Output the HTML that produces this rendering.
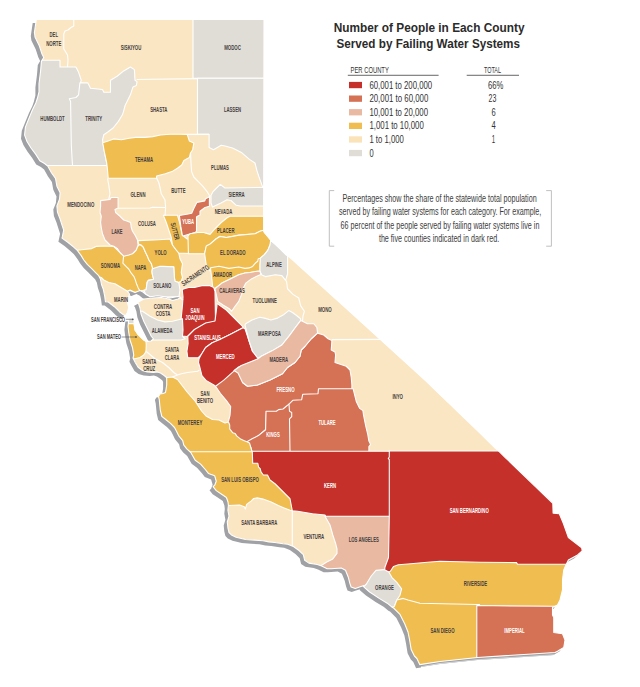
<!DOCTYPE html>
<html><head><meta charset="utf-8"><style>
html,body{margin:0;padding:0;background:#fff;}
body{width:640px;height:687px;overflow:hidden;position:relative;font-family:"Liberation Sans",sans-serif;}
svg{position:absolute;left:0;top:0;}
text{font-family:"Liberation Sans",sans-serif;}
</style></head><body>
<svg width="640" height="687" viewBox="0 0 640 687">
<defs><clipPath id="land"><polygon points="36.30,19.50 264.00,19.50 263.60,230.30 264.40,232.50 267.50,236.25 270.60,240.00 271.90,241.25 280.00,248.75 286.25,255.00 290.00,257.50 355.00,316.25 425.00,380.20 480.00,433.00 495.50,448.40 498.00,450.30 505.00,457.30 552.80,503.30 553.10,513.10 559.30,513.70 563.30,523.30 568.40,537.60 581.70,547.80 582.20,550.80 577.60,554.90 568.40,560.00 567.40,562.00 566.40,564.10 563.75,570.00 562.50,580.00 562.50,590.00 560.00,600.00 557.50,605.00 552.50,607.50 552.50,615.00 553.75,617.50 553.75,632.50 562.50,633.75 565.00,640.00 563.75,647.50 557.50,651.25 555.00,652.50 477.50,657.50 440.00,661.50 419.70,664.60 416.90,658.50 414.40,656.00 411.20,649.60 409.60,640.00 408.00,632.00 404.80,624.00 400.00,614.40 393.60,608.00 392.00,607.20 387.20,603.20 379.20,598.40 369.60,592.00 363.20,586.40 363.75,585.60 359.50,587.00 355.30,588.40 351.10,587.00 349.70,582.80 348.30,577.20 345.50,570.20 341.30,568.00 331.40,568.75 327.20,568.75 321.60,566.00 317.30,564.50 308.90,563.10 304.70,560.30 303.30,554.70 299.00,550.50 293.40,546.50 287.70,544.20 283.00,543.70 274.80,542.50 268.90,541.90 263.00,540.70 254.80,540.10 245.40,539.50 236.10,537.20 231.40,534.90 229.00,532.50 227.90,527.80 227.30,522.00 229.00,516.10 227.90,510.20 228.40,505.50 228.00,502.00 226.40,497.50 220.90,493.75 216.25,490.60 213.10,486.70 214.70,485.20 216.25,481.25 214.70,475.80 208.40,473.40 205.30,469.50 200.60,464.10 195.20,460.20 190.80,452.50 186.80,448.90 183.70,444.80 182.70,440.70 178.60,435.60 176.10,430.50 174.50,427.50 170.50,423.40 165.40,419.30 161.80,416.30 160.30,410.20 159.30,400.00 158.50,396.50 160.00,394.00 163.00,393.50 165.50,392.50 166.70,385.00 166.70,378.50 166.00,377.00 163.50,375.00 160.50,373.00 157.50,371.90 153.40,372.40 147.30,371.90 142.20,370.40 138.10,367.30 135.10,362.20 133.00,358.10 133.75,355.00 132.50,347.50 130.00,340.00 128.75,332.50 128.00,326.25 128.50,322.00 129.00,318.00 133.50,318.00 134.00,322.00 135.00,330.00 137.50,333.75 141.25,337.50 144.00,340.00 147.00,341.50 151.00,341.00 153.50,339.00 151.25,336.25 148.75,331.25 146.25,326.25 143.75,321.25 141.00,314.00 140.00,308.00 138.50,303.50 137.50,302.50 143.75,299.00 152.50,298.00 161.25,297.50 168.75,299.00 172.50,300.50 178.00,299.00 181.00,297.50 178.00,296.50 170.00,298.00 165.00,296.80 157.50,295.80 150.00,296.80 146.00,294.50 143.00,292.00 140.00,290.50 137.50,291.50 135.00,292.50 130.00,290.50 127.50,291.50 129.50,294.00 128.50,297.50 127.50,302.50 128.75,307.50 127.50,312.50 125.50,315.50 124.30,315.40 119.40,311.70 114.40,306.70 108.30,302.00 105.50,301.80 104.60,295.60 103.30,289.40 101.50,284.50 100.50,279.20 98.70,275.70 96.10,273.10 91.70,268.70 87.30,264.30 83.80,260.00 81.20,255.60 77.30,250.30 73.40,246.90 68.10,242.50 62.00,238.10 62.40,236.40 63.70,230.20 62.00,225.00 60.10,219.00 57.50,212.40 56.90,205.90 59.50,199.30 60.10,192.80 56.90,186.20 55.50,178.30 51.60,173.00 47.70,166.00 44.50,163.50 39.80,160.80 35.80,154.40 31.00,148.00 27.00,141.50 24.60,135.10 25.40,127.10 28.60,119.10 32.60,109.50 35.80,103.00 37.40,98.30 39.00,91.90 39.00,83.80 40.60,71.00 41.40,61.40 43.75,57.50 41.90,53.75 39.40,46.00 35.00,37.00 34.40,32.50"/></clipPath></defs>

<polygon points="36.30,19.50 264.00,19.50 263.60,230.30 264.40,232.50 267.50,236.25 270.60,240.00 271.90,241.25 280.00,248.75 286.25,255.00 290.00,257.50 355.00,316.25 425.00,380.20 480.00,433.00 495.50,448.40 498.00,450.30 505.00,457.30 552.80,503.30 553.10,513.10 559.30,513.70 563.30,523.30 568.40,537.60 581.70,547.80 582.20,550.80 577.60,554.90 568.40,560.00 567.40,562.00 566.40,564.10 563.75,570.00 562.50,580.00 562.50,590.00 560.00,600.00 557.50,605.00 552.50,607.50 552.50,615.00 553.75,617.50 553.75,632.50 562.50,633.75 565.00,640.00 563.75,647.50 557.50,651.25 555.00,652.50 477.50,657.50 440.00,661.50 419.70,664.60 416.90,658.50 414.40,656.00 411.20,649.60 409.60,640.00 408.00,632.00 404.80,624.00 400.00,614.40 393.60,608.00 392.00,607.20 387.20,603.20 379.20,598.40 369.60,592.00 363.20,586.40 363.75,585.60 359.50,587.00 355.30,588.40 351.10,587.00 349.70,582.80 348.30,577.20 345.50,570.20 341.30,568.00 331.40,568.75 327.20,568.75 321.60,566.00 317.30,564.50 308.90,563.10 304.70,560.30 303.30,554.70 299.00,550.50 293.40,546.50 287.70,544.20 283.00,543.70 274.80,542.50 268.90,541.90 263.00,540.70 254.80,540.10 245.40,539.50 236.10,537.20 231.40,534.90 229.00,532.50 227.90,527.80 227.30,522.00 229.00,516.10 227.90,510.20 228.40,505.50 228.00,502.00 226.40,497.50 220.90,493.75 216.25,490.60 213.10,486.70 214.70,485.20 216.25,481.25 214.70,475.80 208.40,473.40 205.30,469.50 200.60,464.10 195.20,460.20 190.80,452.50 186.80,448.90 183.70,444.80 182.70,440.70 178.60,435.60 176.10,430.50 174.50,427.50 170.50,423.40 165.40,419.30 161.80,416.30 160.30,410.20 159.30,400.00 158.50,396.50 160.00,394.00 163.00,393.50 165.50,392.50 166.70,385.00 166.70,378.50 166.00,377.00 163.50,375.00 160.50,373.00 157.50,371.90 153.40,372.40 147.30,371.90 142.20,370.40 138.10,367.30 135.10,362.20 133.00,358.10 133.75,355.00 132.50,347.50 130.00,340.00 128.75,332.50 128.00,326.25 128.50,322.00 129.00,318.00 133.50,318.00 134.00,322.00 135.00,330.00 137.50,333.75 141.25,337.50 144.00,340.00 147.00,341.50 151.00,341.00 153.50,339.00 151.25,336.25 148.75,331.25 146.25,326.25 143.75,321.25 141.00,314.00 140.00,308.00 138.50,303.50 137.50,302.50 143.75,299.00 152.50,298.00 161.25,297.50 168.75,299.00 172.50,300.50 178.00,299.00 181.00,297.50 178.00,296.50 170.00,298.00 165.00,296.80 157.50,295.80 150.00,296.80 146.00,294.50 143.00,292.00 140.00,290.50 137.50,291.50 135.00,292.50 130.00,290.50 127.50,291.50 129.50,294.00 128.50,297.50 127.50,302.50 128.75,307.50 127.50,312.50 125.50,315.50 124.30,315.40 119.40,311.70 114.40,306.70 108.30,302.00 105.50,301.80 104.60,295.60 103.30,289.40 101.50,284.50 100.50,279.20 98.70,275.70 96.10,273.10 91.70,268.70 87.30,264.30 83.80,260.00 81.20,255.60 77.30,250.30 73.40,246.90 68.10,242.50 62.00,238.10 62.40,236.40 63.70,230.20 62.00,225.00 60.10,219.00 57.50,212.40 56.90,205.90 59.50,199.30 60.10,192.80 56.90,186.20 55.50,178.30 51.60,173.00 47.70,166.00 44.50,163.50 39.80,160.80 35.80,154.40 31.00,148.00 27.00,141.50 24.60,135.10 25.40,127.10 28.60,119.10 32.60,109.50 35.80,103.00 37.40,98.30 39.00,91.90 39.00,83.80 40.60,71.00 41.40,61.40 43.75,57.50 41.90,53.75 39.40,46.00 35.00,37.00 34.40,32.50" fill="#9fa1a5" transform="translate(-3.6,3.6)"/>
<polygon points="421,667 440,663.9 477.5,660 555,655 600,652 600,687 421,687" fill="#fff"/>
<polygon points="421,666.2 440,663.1 477.5,659.2 555,654.2 555,655 477.5,660 440,663.9 421,667" fill="#d9dadc"/>
<g clip-path="url(#land)">
<polygon points="36.30,19.50 264.00,19.50 263.60,230.30 264.40,232.50 267.50,236.25 270.60,240.00 271.90,241.25 280.00,248.75 286.25,255.00 290.00,257.50 355.00,316.25 425.00,380.20 480.00,433.00 495.50,448.40 498.00,450.30 505.00,457.30 552.80,503.30 553.10,513.10 559.30,513.70 563.30,523.30 568.40,537.60 581.70,547.80 582.20,550.80 577.60,554.90 568.40,560.00 567.40,562.00 566.40,564.10 563.75,570.00 562.50,580.00 562.50,590.00 560.00,600.00 557.50,605.00 552.50,607.50 552.50,615.00 553.75,617.50 553.75,632.50 562.50,633.75 565.00,640.00 563.75,647.50 557.50,651.25 555.00,652.50 477.50,657.50 440.00,661.50 419.70,664.60 416.90,658.50 414.40,656.00 411.20,649.60 409.60,640.00 408.00,632.00 404.80,624.00 400.00,614.40 393.60,608.00 392.00,607.20 387.20,603.20 379.20,598.40 369.60,592.00 363.20,586.40 363.75,585.60 359.50,587.00 355.30,588.40 351.10,587.00 349.70,582.80 348.30,577.20 345.50,570.20 341.30,568.00 331.40,568.75 327.20,568.75 321.60,566.00 317.30,564.50 308.90,563.10 304.70,560.30 303.30,554.70 299.00,550.50 293.40,546.50 287.70,544.20 283.00,543.70 274.80,542.50 268.90,541.90 263.00,540.70 254.80,540.10 245.40,539.50 236.10,537.20 231.40,534.90 229.00,532.50 227.90,527.80 227.30,522.00 229.00,516.10 227.90,510.20 228.40,505.50 228.00,502.00 226.40,497.50 220.90,493.75 216.25,490.60 213.10,486.70 214.70,485.20 216.25,481.25 214.70,475.80 208.40,473.40 205.30,469.50 200.60,464.10 195.20,460.20 190.80,452.50 186.80,448.90 183.70,444.80 182.70,440.70 178.60,435.60 176.10,430.50 174.50,427.50 170.50,423.40 165.40,419.30 161.80,416.30 160.30,410.20 159.30,400.00 158.50,396.50 160.00,394.00 163.00,393.50 165.50,392.50 166.70,385.00 166.70,378.50 166.00,377.00 163.50,375.00 160.50,373.00 157.50,371.90 153.40,372.40 147.30,371.90 142.20,370.40 138.10,367.30 135.10,362.20 133.00,358.10 133.75,355.00 132.50,347.50 130.00,340.00 128.75,332.50 128.00,326.25 128.50,322.00 129.00,318.00 133.50,318.00 134.00,322.00 135.00,330.00 137.50,333.75 141.25,337.50 144.00,340.00 147.00,341.50 151.00,341.00 153.50,339.00 151.25,336.25 148.75,331.25 146.25,326.25 143.75,321.25 141.00,314.00 140.00,308.00 138.50,303.50 137.50,302.50 143.75,299.00 152.50,298.00 161.25,297.50 168.75,299.00 172.50,300.50 178.00,299.00 181.00,297.50 178.00,296.50 170.00,298.00 165.00,296.80 157.50,295.80 150.00,296.80 146.00,294.50 143.00,292.00 140.00,290.50 137.50,291.50 135.00,292.50 130.00,290.50 127.50,291.50 129.50,294.00 128.50,297.50 127.50,302.50 128.75,307.50 127.50,312.50 125.50,315.50 124.30,315.40 119.40,311.70 114.40,306.70 108.30,302.00 105.50,301.80 104.60,295.60 103.30,289.40 101.50,284.50 100.50,279.20 98.70,275.70 96.10,273.10 91.70,268.70 87.30,264.30 83.80,260.00 81.20,255.60 77.30,250.30 73.40,246.90 68.10,242.50 62.00,238.10 62.40,236.40 63.70,230.20 62.00,225.00 60.10,219.00 57.50,212.40 56.90,205.90 59.50,199.30 60.10,192.80 56.90,186.20 55.50,178.30 51.60,173.00 47.70,166.00 44.50,163.50 39.80,160.80 35.80,154.40 31.00,148.00 27.00,141.50 24.60,135.10 25.40,127.10 28.60,119.10 32.60,109.50 35.80,103.00 37.40,98.30 39.00,91.90 39.00,83.80 40.60,71.00 41.40,61.40 43.75,57.50 41.90,53.75 39.40,46.00 35.00,37.00 34.40,32.50" fill="#fbe6c3"/>
<g stroke="#fff" stroke-width="1.1" stroke-linejoin="round">
<polygon points="193.00,15.00 270.00,15.00 270.00,78.30 193.00,78.30" fill="#e0ddd7"/>
<polygon points="197.50,78.30 270.00,78.30 270.00,186.60 262.50,186.60 258.75,176.25 256.90,170.60 255.00,163.00 249.40,159.40 241.90,152.80 232.50,148.00 225.00,146.00 221.25,145.30 213.50,149.70 209.10,147.50 209.10,134.40 197.50,134.40" fill="#e0ddd7"/>
<polygon points="15.00,60.30 60.00,60.30 60.00,67.00 75.90,67.00 78.60,72.30 81.20,80.20 80.50,83.00 84.00,84.00 84.00,165.50 15.00,165.50" fill="#e0ddd7"/>
<polygon points="79.90,82.90 87.90,82.90 90.50,88.20 102.50,89.50 103.80,92.20 110.50,92.20 110.50,80.20 117.10,76.20 123.70,70.90 130.40,67.00 134.40,69.60 135.00,80.20 137.00,81.60 136.40,85.50 133.00,86.90 130.40,94.80 127.70,100.20 125.10,105.50 123.70,110.80 122.40,114.80 118.40,121.40 113.10,128.00 107.80,132.00 103.80,134.70 102.50,140.00 104.40,151.25 105.60,158.00 107.20,165.50 72.50,165.50 71.30,145.00 70.60,101.50 69.30,98.80 75.90,97.50 78.60,94.80" fill="#e0ddd7"/>
<polygon points="102.70,142.80 107.40,141.30 113.60,138.90 121.40,139.70 129.25,138.20 135.50,137.40 144.90,137.40 152.70,136.60 160.50,135.00 169.90,134.25 179.25,134.25 187.20,134.40 189.40,141.00 193.80,143.10 192.70,149.70 190.50,153.00 189.40,157.40 183.90,160.60 181.70,165.00 177.40,168.30 171.90,171.60 165.30,173.80 156.60,176.00 156.60,178.30 108.20,178.30 107.40,168.60 106.60,162.40 104.25,151.40" fill="#f0bd50"/>
<polygon points="212.80,191.90 216.60,188.00 220.30,184.40 225.00,188.00 270.00,187.30 270.00,206.00 240.00,206.00 236.25,205.30 231.00,200.50 227.00,199.80 221.00,203.00 212.50,207.00 211.00,203.00 211.00,195.60" fill="#e0ddd7"/>
<polygon points="60.00,251.00 77.30,250.30 83.80,249.50 91.70,248.60 96.10,246.40 105.00,246.00 113.75,246.50 117.50,250.00 121.25,253.75 126.00,256.00 128.00,265.00 134.00,272.00 138.00,280.00 140.00,288.00 139.50,291.50 135.00,292.50 130.00,290.00 127.50,291.25 121.25,287.50 115.00,283.75 108.75,282.50 103.75,280.00 101.25,277.50 80.00,270.00" fill="#f0bd50"/>
<polygon points="123.60,255.90 129.50,254.50 133.80,252.30 136.00,249.40 137.50,246.50 138.90,245.00 141.10,245.00 143.30,247.20 145.50,252.30 147.60,256.60 149.00,260.00 151.30,263.50 152.50,267.60 151.90,271.60 152.50,275.10 153.60,279.20 148.40,280.40 147.20,282.10 146.60,286.20 146.10,289.70 143.70,290.30 139.70,290.50 138.20,287.90 136.70,284.30 135.30,279.90 133.80,276.30 130.90,272.60 128.70,269.00 126.50,266.80 122.90,263.20" fill="#f0bd50"/>
<polygon points="100.60,200.60 110.00,199.40 111.25,197.50 118.10,197.50 118.10,208.10 115.00,209.40 115.60,212.50 120.00,216.25 123.75,220.00 127.50,221.25 130.60,222.50 131.25,227.50 132.50,231.25 135.00,235.00 137.50,240.00 138.10,245.00 136.25,250.00 132.50,253.75 128.75,255.00 123.75,256.25 120.00,252.50 117.50,248.75 113.75,246.25 110.00,245.00 105.00,240.00 102.50,233.75 101.25,227.50 100.60,222.50 101.25,216.25 100.00,212.50 100.60,206.25" fill="#e9b9a2"/>
<polygon points="138.00,240.60 158.75,239.70 170.00,239.00 172.50,245.00 176.25,250.00 178.75,253.00 180.00,258.75 182.50,263.75 181.90,267.50 181.25,272.50 182.50,277.50 181.25,281.00 178.75,282.50 175.00,281.25 174.40,277.50 173.75,266.90 165.00,267.50 157.50,268.75 152.50,268.75 152.50,267.60 151.30,263.50 149.00,260.00 147.60,256.60 145.50,252.30 143.30,247.20 141.10,245.00 138.50,244.00" fill="#f0bd50"/>
<polygon points="152.50,268.70 156.00,267.60 159.50,266.40 163.00,266.40 173.75,266.90 174.40,277.50 175.00,281.25 178.75,282.50 180.00,290.00 179.00,296.50 165.00,297.00 150.00,297.00 146.00,294.50 143.70,290.30 146.10,289.70 146.60,286.20 147.20,282.10 148.40,280.40 153.60,279.20 152.50,275.10 151.90,271.60" fill="#e0ddd7"/>
<polygon points="163.40,215.30 177.50,215.30 179.40,221.90 182.20,235.00 186.90,238.75 189.50,240.00 189.50,253.50 178.75,253.00 176.25,250.00 172.50,245.00 171.25,237.50 168.75,230.00 166.25,222.50 163.75,216.25" fill="#f0bd50"/>
<polygon points="209.90,195.50 209.40,199.50 209.40,206.25 205.00,207.50 200.00,211.25 200.00,215.00 197.50,216.25 196.50,217.00 196.50,231.50 195.00,232.50 188.80,234.20 183.00,236.00 182.30,235.10 180.80,226.40 179.40,215.50 188.10,214.00 191.70,213.30 193.90,208.20 196.80,202.40 204.80,200.90 205.50,198.70 208.50,197.30" fill="#d57154"/>
<polygon points="188.00,236.00 190.00,233.75 197.50,232.50 203.75,232.50 210.00,234.40 215.00,228.75 221.25,222.50 227.50,217.50 230.00,216.25 270.00,216.25 270.00,230.30 265.00,230.00 260.00,231.25 255.00,233.75 245.00,234.50 238.75,235.00 232.50,236.25 226.25,237.50 220.00,236.25 216.25,238.75 210.00,245.00 206.25,247.00 204.60,253.75 188.40,253.75" fill="#f0bd50"/>
<polygon points="204.60,253.75 206.25,246.00 210.00,244.00 216.25,238.75 220.00,236.50 226.25,237.50 232.50,236.50 238.75,235.20 245.00,234.70 255.00,233.75 260.00,231.25 263.40,230.30 264.40,232.50 267.50,236.25 270.60,240.00 271.00,242.50 270.00,245.00 267.90,250.10 264.40,254.70 260.30,258.20 258.00,262.00 255.00,266.00 245.00,270.00 228.75,270.00 217.50,270.00 210.00,271.00 206.25,265.00" fill="#f0bd50"/>
<polygon points="270.60,240.50 287.60,252.00 287.60,273.75 285.60,280.30 281.90,275.60 275.30,274.70 265.40,276.60 261.80,275.00 259.80,271.00 259.80,258.50 260.30,258.20 264.40,254.70 267.90,250.10 270.00,245.00" fill="#e0ddd7"/>
<polygon points="210.60,267.70 219.00,266.25 228.90,268.40 238.75,267.00 245.00,268.40 249.10,267.90 252.60,266.40 255.20,263.30 257.70,261.30 258.20,258.75 260.30,258.20 259.80,265.00 259.80,271.00 255.20,271.50 250.10,272.50 245.00,273.00 238.75,274.70 230.30,278.90 221.90,283.10 214.80,288.75 212.70,287.30 212.00,280.30 210.60,269.00" fill="#f0bd50"/>
<polygon points="214.80,288.75 221.90,283.10 230.30,278.90 238.75,274.70 245.00,273.00 250.10,272.50 255.20,271.50 259.80,271.00 261.00,274.50 258.40,275.50 251.40,278.90 245.80,283.10 243.00,288.75 241.60,294.40 238.75,301.40 234.50,307.00 231.70,311.25 228.90,308.40 223.00,305.00 217.70,301.40 216.25,294.40" fill="#e9b9a2"/>
<polygon points="182.20,289.40 185.00,288.40 188.75,287.50 194.40,287.50 201.90,285.60 209.40,285.60 213.75,287.50 215.00,291.25 215.50,321.50 205.60,323.50 194.40,330.00 187.50,336.50 181.25,336.00 181.25,317.50 182.50,305.00 183.00,297.00" fill="#c5302b"/>
<polygon points="187.80,336.25 194.40,329.50 205.60,323.00 215.00,321.00 216.90,306.25 216.90,303.40 226.25,310.00 233.75,317.50 243.00,326.90 243.00,327.80 230.00,334.40 218.75,340.00 212.20,342.80 205.60,347.50 201.00,355.00 198.00,357.80 187.80,357.80 186.90,351.25 188.10,343.75" fill="#c5302b"/>
<polygon points="199.00,358.75 201.00,355.00 205.60,347.50 212.20,342.80 218.75,340.00 230.00,334.40 243.00,327.80 245.00,328.75 248.75,340.00 252.50,351.25 260.00,358.75 258.00,359.70 241.25,366.50 235.00,371.50 224.00,381.50 216.00,387.50 214.70,385.50 206.00,380.40 201.90,375.60 200.00,368.00 198.50,362.50" fill="#c5302b"/>
<polygon points="245.00,325.00 245.60,323.70 252.00,320.00 259.70,317.20 264.40,318.10 270.90,320.00 277.50,318.10 284.00,314.40 288.75,310.60 292.50,312.50 296.25,315.30 300.60,318.75 300.60,320.60 295.00,328.00 289.40,335.60 281.90,345.00 272.50,350.60 261.25,356.25 258.00,358.50 252.50,351.25 248.75,340.00" fill="#e0ddd7"/>
<polygon points="317.50,333.10 323.75,335.00 328.10,338.75 331.90,340.60 331.25,350.00 335.00,351.90 335.60,355.00 335.00,362.50 338.75,363.75 346.25,366.25 350.00,370.00 351.25,377.50 351.90,385.00 351.90,390.00 319.50,390.00 319.50,395.00 303.50,395.00 302.50,401.00 293.50,401.50 287.50,407.00 283.00,410.00 276.00,412.50 266.40,413.00 265.60,429.80 258.40,435.60 252.00,446.00 245.00,444.00 236.00,438.00 228.00,431.00 226.00,424.00 228.50,421.00 230.00,415.30 230.70,406.50 226.40,400.70 220.50,393.50 215.50,386.20 223.50,380.40 235.00,370.20 238.00,367.30 242.00,366.00 242.50,382.50 247.50,386.25 257.50,385.00 270.00,380.00 282.50,373.75 287.50,367.50 295.00,362.50 300.00,356.25 301.25,350.00 305.00,346.25 311.25,338.75" fill="#d57154"/>
<polygon points="258.00,358.80 261.25,356.25 272.50,350.60 281.90,345.00 289.40,335.60 295.00,328.00 300.60,320.60 302.50,321.25 307.50,323.75 313.75,323.75 316.90,327.50 317.50,332.50 317.50,333.10 311.25,338.75 305.00,346.25 301.25,350.00 300.00,356.25 295.00,362.50 287.50,367.50 282.50,373.75 270.00,380.00 257.50,385.00 247.50,386.25 242.50,382.50 238.00,373.00 234.00,370.50 241.25,365.50" fill="#e9b9a2"/>
<polygon points="266.00,411.30 276.40,411.30 278.60,409.60 283.00,409.00 286.30,406.30 289.00,404.10 293.00,405.00 293.00,452.50 252.00,452.50 251.00,448.00 248.50,443.00 246.90,441.80 252.50,438.60 258.40,435.60 265.60,429.80" fill="#d57154"/>
<polygon points="289.00,404.10 292.80,400.30 301.60,399.80 302.70,394.30 318.00,393.75 318.50,388.80 353.10,388.70 354.20,393.10 356.40,401.80 359.70,408.40 362.90,410.60 363.50,414.90 365.70,425.90 367.80,434.60 368.90,441.10 370.60,444.40 368.90,446.60 368.90,452.50 290.00,452.50 289.50,418.90 291.70,416.70 291.70,412.40 289.50,411.30" fill="#d57154"/>
<polygon points="138.00,311.25 142.50,311.25 150.00,316.25 157.50,320.00 165.00,321.90 172.50,321.25 182.50,318.75 182.50,320.00 183.00,330.00 182.50,336.25 185.00,338.75 181.25,340.00 165.00,340.00 152.50,340.00 145.00,340.00 138.00,330.00" fill="#e0ddd7"/>
<polygon points="120.00,316.00 134.50,316.00 134.50,323.50 120.00,323.50" fill="#e0ddd7"/>
<polygon points="120.00,323.80 134.00,323.80 135.00,330.00 137.50,333.75 141.25,337.50 143.75,340.00 146.00,341.50 146.25,345.00 146.00,351.50 143.75,355.00 140.00,357.50 135.00,358.75 120.00,358.00" fill="#f0bd50"/>
<polygon points="167.50,377.50 172.50,377.00 177.50,379.50 182.50,386.00 187.50,392.50 195.00,401.00 201.60,411.00 206.00,416.00 212.50,419.50 219.00,420.00 225.00,423.00 228.50,422.00 229.70,425.00 229.70,428.90 232.80,432.80 235.20,433.60 236.70,435.90 240.60,439.10 243.75,440.60 246.90,441.80 249.50,443.00 251.00,448.00 252.50,453.00 190.00,453.00 150.00,453.00 150.00,377.00" fill="#f0bd50"/>
<polygon points="180.00,451.80 300.00,451.80 300.00,505.00 292.30,510.80 290.00,510.20 284.10,507.90 278.30,505.50 271.20,502.00 263.00,499.10 257.20,497.90 253.70,498.50 251.30,500.90 246.60,504.40 245.40,509.00 244.30,506.70 239.60,505.00 228.40,505.50 215.00,506.00" fill="#f0bd50"/>
<polygon points="252.30,451.30 391.00,451.30 391.00,517.00 326.00,517.00 325.00,515.00 312.50,513.75 305.00,512.50 297.50,511.25 292.30,510.80 290.00,498.75 285.00,493.75 280.00,488.75 275.00,483.75 270.00,480.00 267.50,475.00 263.30,475.00 261.00,471.90 260.20,468.75 258.60,467.20 257.80,463.30 252.70,463.30" fill="#c5302b"/>
<polygon points="325.00,516.20 391.00,516.20 391.00,560.00 387.00,570.00 375.00,574.00 368.00,585.00 360.00,595.00 330.00,590.00 318.00,570.00 321.60,565.20 327.20,561.70 332.80,558.90 337.00,553.30 337.00,549.00 335.60,543.40 332.80,535.00 330.00,525.00" fill="#e9b9a2"/>
<polygon points="389.30,451.00 500.00,451.00 600.00,540.00 600.00,566.00 567.50,566.00 517.50,566.00 480.00,566.00 440.00,566.00 427.50,566.00 408.00,566.00 398.40,566.50 393.60,569.00 390.40,573.50 384.50,573.50 384.50,571.00 385.00,567.00 388.50,557.50 389.30,516.25 389.30,459.50 388.30,458.50 389.30,457.00" fill="#c5302b"/>
<polygon points="388.80,572.00 390.40,571.30 393.60,566.40 398.40,564.80 408.00,564.00 427.50,562.30 440.00,561.30 480.00,562.30 516.50,562.60 517.50,564.30 595.00,564.30 595.00,607.00 557.50,607.00 477.50,607.00 420.00,606.00 408.00,603.00 396.80,603.00 385.00,600.00 385.00,572.00" fill="#f0bd50"/>
<polygon points="366.40,584.00 371.20,576.00 376.00,570.40 384.00,569.60 388.80,572.00 392.00,577.60 396.80,582.40 401.60,588.80 400.00,595.20 396.80,600.00 394.40,606.40 380.00,612.00 355.00,595.00" fill="#e0ddd7"/>
<polygon points="394.40,606.40 396.80,600.00 403.20,598.40 408.00,600.00 420.00,603.20 477.50,604.50 479.50,604.50 479.50,675.00 395.00,675.00 385.00,610.00" fill="#f0bd50"/>
<polygon points="476.80,605.50 552.50,606.30 600.00,606.30 600.00,675.00 476.80,675.00" fill="#d57154"/>
<polyline points="73.75,15.00 73.75,26.00 71.00,27.50 68.00,30.00 65.00,31.00 63.75,34.00 63.75,48.75 67.50,55.00 68.00,60.00 67.50,67.00" fill="none"/>
<polyline points="136.60,79.50 197.50,78.60" fill="none"/>
<polyline points="187.20,134.40 209.10,134.40" fill="none"/>
<polyline points="190.50,153.00 191.00,162.80 191.60,171.60 193.80,177.00 198.10,181.40 202.50,185.80 206.90,191.30 209.40,195.50" fill="none"/>
<polyline points="156.60,178.00 158.75,182.50 160.00,187.50 161.25,193.75 165.00,200.00 165.60,207.50" fill="none"/>
<polyline points="118.00,208.30 150.00,208.00 152.50,207.30 165.60,207.50" fill="none"/>
<polyline points="165.60,207.50 165.00,216.00" fill="none"/>
<polyline points="107.50,178.50 108.75,185.00 110.00,193.75 108.75,199.40" fill="none"/>
<polyline points="145.50,351.00 147.50,352.50 155.00,358.75 162.50,362.50 168.75,367.50 173.75,372.50 177.50,375.00" fill="none"/>
<polyline points="177.50,375.00 181.25,373.75 187.50,372.50 197.50,371.25 199.50,370.00" fill="none"/>
<polyline points="172.50,377.00 177.50,375.00" fill="none"/>
<polyline points="285.60,280.30 286.60,281.50 287.50,288.75 293.00,294.40 298.75,298.00 300.60,305.60 304.40,311.25 303.00,316.00 302.50,321.00" fill="none"/>
<polyline points="331.90,339.60 385.00,339.40" fill="none"/>
<polyline points="292.30,510.80 292.30,548.00" fill="none"/>
<polyline points="180.00,298.00 183.00,300.00" fill="none"/>
</g></g>
<polygon points="36.30,19.50 264.00,19.50 263.60,230.30 264.40,232.50 267.50,236.25 270.60,240.00 271.90,241.25 280.00,248.75 286.25,255.00 290.00,257.50 355.00,316.25 425.00,380.20 480.00,433.00 495.50,448.40 498.00,450.30 505.00,457.30 552.80,503.30 553.10,513.10 559.30,513.70 563.30,523.30 568.40,537.60 581.70,547.80 582.20,550.80 577.60,554.90 568.40,560.00 567.40,562.00 566.40,564.10 563.75,570.00 562.50,580.00 562.50,590.00 560.00,600.00 557.50,605.00 552.50,607.50 552.50,615.00 553.75,617.50 553.75,632.50 562.50,633.75 565.00,640.00 563.75,647.50 557.50,651.25 555.00,652.50 477.50,657.50 440.00,661.50 419.70,664.60 416.90,658.50 414.40,656.00 411.20,649.60 409.60,640.00 408.00,632.00 404.80,624.00 400.00,614.40 393.60,608.00 392.00,607.20 387.20,603.20 379.20,598.40 369.60,592.00 363.20,586.40 363.75,585.60 359.50,587.00 355.30,588.40 351.10,587.00 349.70,582.80 348.30,577.20 345.50,570.20 341.30,568.00 331.40,568.75 327.20,568.75 321.60,566.00 317.30,564.50 308.90,563.10 304.70,560.30 303.30,554.70 299.00,550.50 293.40,546.50 287.70,544.20 283.00,543.70 274.80,542.50 268.90,541.90 263.00,540.70 254.80,540.10 245.40,539.50 236.10,537.20 231.40,534.90 229.00,532.50 227.90,527.80 227.30,522.00 229.00,516.10 227.90,510.20 228.40,505.50 228.00,502.00 226.40,497.50 220.90,493.75 216.25,490.60 213.10,486.70 214.70,485.20 216.25,481.25 214.70,475.80 208.40,473.40 205.30,469.50 200.60,464.10 195.20,460.20 190.80,452.50 186.80,448.90 183.70,444.80 182.70,440.70 178.60,435.60 176.10,430.50 174.50,427.50 170.50,423.40 165.40,419.30 161.80,416.30 160.30,410.20 159.30,400.00 158.50,396.50 160.00,394.00 163.00,393.50 165.50,392.50 166.70,385.00 166.70,378.50 166.00,377.00 163.50,375.00 160.50,373.00 157.50,371.90 153.40,372.40 147.30,371.90 142.20,370.40 138.10,367.30 135.10,362.20 133.00,358.10 133.75,355.00 132.50,347.50 130.00,340.00 128.75,332.50 128.00,326.25 128.50,322.00 129.00,318.00 133.50,318.00 134.00,322.00 135.00,330.00 137.50,333.75 141.25,337.50 144.00,340.00 147.00,341.50 151.00,341.00 153.50,339.00 151.25,336.25 148.75,331.25 146.25,326.25 143.75,321.25 141.00,314.00 140.00,308.00 138.50,303.50 137.50,302.50 143.75,299.00 152.50,298.00 161.25,297.50 168.75,299.00 172.50,300.50 178.00,299.00 181.00,297.50 178.00,296.50 170.00,298.00 165.00,296.80 157.50,295.80 150.00,296.80 146.00,294.50 143.00,292.00 140.00,290.50 137.50,291.50 135.00,292.50 130.00,290.50 127.50,291.50 129.50,294.00 128.50,297.50 127.50,302.50 128.75,307.50 127.50,312.50 125.50,315.50 124.30,315.40 119.40,311.70 114.40,306.70 108.30,302.00 105.50,301.80 104.60,295.60 103.30,289.40 101.50,284.50 100.50,279.20 98.70,275.70 96.10,273.10 91.70,268.70 87.30,264.30 83.80,260.00 81.20,255.60 77.30,250.30 73.40,246.90 68.10,242.50 62.00,238.10 62.40,236.40 63.70,230.20 62.00,225.00 60.10,219.00 57.50,212.40 56.90,205.90 59.50,199.30 60.10,192.80 56.90,186.20 55.50,178.30 51.60,173.00 47.70,166.00 44.50,163.50 39.80,160.80 35.80,154.40 31.00,148.00 27.00,141.50 24.60,135.10 25.40,127.10 28.60,119.10 32.60,109.50 35.80,103.00 37.40,98.30 39.00,91.90 39.00,83.80 40.60,71.00 41.40,61.40 43.75,57.50 41.90,53.75 39.40,46.00 35.00,37.00 34.40,32.50" fill="none" stroke="#fff" stroke-width="1.1" stroke-linejoin="round"/>
<g>
<text x="53.75" y="37.30" fill="#454040" font-size="7.00" font-weight="bold" textLength="8.44" lengthAdjust="spacingAndGlyphs" text-anchor="middle">DEL</text>
<text x="53.75" y="45.50" fill="#454040" font-size="7.00" font-weight="bold" textLength="15.11" lengthAdjust="spacingAndGlyphs" text-anchor="middle">NORTE</text>
<text x="131.00" y="50.00" fill="#454040" font-size="7.00" font-weight="bold" textLength="20.50" lengthAdjust="spacingAndGlyphs" text-anchor="middle">SISKIYOU</text>
<text x="232.50" y="50.00" fill="#454040" font-size="7.00" font-weight="bold" textLength="16.64" lengthAdjust="spacingAndGlyphs" text-anchor="middle">MODOC</text>
<text x="52.50" y="120.50" fill="#454040" font-size="7.00" font-weight="bold" textLength="24.35" lengthAdjust="spacingAndGlyphs" text-anchor="middle">HUMBOLDT</text>
<text x="93.75" y="120.50" fill="#454040" font-size="7.00" font-weight="bold" textLength="16.88" lengthAdjust="spacingAndGlyphs" text-anchor="middle">TRINITY</text>
<text x="158.75" y="112.00" fill="#454040" font-size="7.00" font-weight="bold" textLength="17.04" lengthAdjust="spacingAndGlyphs" text-anchor="middle">SHASTA</text>
<text x="232.50" y="112.00" fill="#454040" font-size="7.00" font-weight="bold" textLength="17.13" lengthAdjust="spacingAndGlyphs" text-anchor="middle">LASSEN</text>
<text x="144.00" y="162.00" fill="#454040" font-size="7.00" font-weight="bold" textLength="18.08" lengthAdjust="spacingAndGlyphs" text-anchor="middle">TEHAMA</text>
<text x="220.00" y="169.50" fill="#454040" font-size="7.00" font-weight="bold" textLength="17.85" lengthAdjust="spacingAndGlyphs" text-anchor="middle">PLUMAS</text>
<text x="138.00" y="196.80" fill="#454040" font-size="7.00" font-weight="bold" textLength="14.95" lengthAdjust="spacingAndGlyphs" text-anchor="middle">GLENN</text>
<text x="178.40" y="192.50" fill="#454040" font-size="7.00" font-weight="bold" textLength="14.23" lengthAdjust="spacingAndGlyphs" text-anchor="middle">BUTTE</text>
<text x="236.60" y="197.00" fill="#454040" font-size="7.00" font-weight="bold" textLength="16.16" lengthAdjust="spacingAndGlyphs" text-anchor="middle">SIERRA</text>
<text x="80.80" y="207.00" fill="#454040" font-size="7.00" font-weight="bold" textLength="27.00" lengthAdjust="spacingAndGlyphs" text-anchor="middle">MENDOCINO</text>
<text x="223.50" y="214.00" fill="#454040" font-size="7.00" font-weight="bold" textLength="17.53" lengthAdjust="spacingAndGlyphs" text-anchor="middle">NEVADA</text>
<text x="147.00" y="226.20" fill="#454040" font-size="7.00" font-weight="bold" textLength="17.85" lengthAdjust="spacingAndGlyphs" text-anchor="middle">COLUSA</text>
<text x="188.20" y="223.80" fill="#ffffff" font-size="7.00" font-weight="bold" textLength="11.82" lengthAdjust="spacingAndGlyphs" text-anchor="middle">YUBA</text>
<text x="117.00" y="234.00" fill="#454040" font-size="7.00" font-weight="bold" textLength="11.10" lengthAdjust="spacingAndGlyphs" text-anchor="middle">LAKE</text>
<text x="225.75" y="232.70" fill="#454040" font-size="7.00" font-weight="bold" textLength="17.37" lengthAdjust="spacingAndGlyphs" text-anchor="middle">PLACER</text>
<text x="160.60" y="254.90" fill="#454040" font-size="7.00" font-weight="bold" textLength="12.06" lengthAdjust="spacingAndGlyphs" text-anchor="middle">YOLO</text>
<text x="232.80" y="255.30" fill="#454040" font-size="7.00" font-weight="bold" textLength="25.40" lengthAdjust="spacingAndGlyphs" text-anchor="middle">EL DORADO</text>
<text x="274.00" y="266.90" fill="#454040" font-size="7.00" font-weight="bold" textLength="15.44" lengthAdjust="spacingAndGlyphs" text-anchor="middle">ALPINE</text>
<text x="110.40" y="267.90" fill="#454040" font-size="7.00" font-weight="bold" textLength="19.29" lengthAdjust="spacingAndGlyphs" text-anchor="middle">SONOMA</text>
<text x="140.40" y="270.30" fill="#454040" font-size="7.00" font-weight="bold" textLength="11.50" lengthAdjust="spacingAndGlyphs" text-anchor="middle">NAPA</text>
<text x="222.50" y="277.20" fill="#454040" font-size="7.00" font-weight="bold" textLength="19.05" lengthAdjust="spacingAndGlyphs" text-anchor="middle">AMADOR</text>
<text x="162.20" y="287.50" fill="#454040" font-size="7.00" font-weight="bold" textLength="18.09" lengthAdjust="spacingAndGlyphs" text-anchor="middle">SOLANO</text>
<text x="232.00" y="293.20" fill="#454040" font-size="7.00" font-weight="bold" textLength="25.73" lengthAdjust="spacingAndGlyphs" text-anchor="middle">CALAVERAS</text>
<text x="121.00" y="302.20" fill="#454040" font-size="7.00" font-weight="bold" textLength="13.98" lengthAdjust="spacingAndGlyphs" text-anchor="middle">MARIN</text>
<text x="264.70" y="303.10" fill="#454040" font-size="7.00" font-weight="bold" textLength="24.35" lengthAdjust="spacingAndGlyphs" text-anchor="middle">TUOLUMNE</text>
<text x="325.00" y="311.90" fill="#454040" font-size="7.00" font-weight="bold" textLength="13.50" lengthAdjust="spacingAndGlyphs" text-anchor="middle">MONO</text>
<text x="163.00" y="309.00" fill="#454040" font-size="7.00" font-weight="bold" textLength="18.32" lengthAdjust="spacingAndGlyphs" text-anchor="middle">CONTRA</text>
<text x="163.00" y="316.30" fill="#454040" font-size="7.00" font-weight="bold" textLength="14.63" lengthAdjust="spacingAndGlyphs" text-anchor="middle">COSTA</text>
<text x="195.00" y="313.10" fill="#ffffff" font-size="7.00" font-weight="bold" textLength="8.92" lengthAdjust="spacingAndGlyphs" text-anchor="middle">SAN</text>
<text x="195.00" y="319.70" fill="#ffffff" font-size="7.00" font-weight="bold" textLength="19.29" lengthAdjust="spacingAndGlyphs" text-anchor="middle">JOAQUIN</text>
<text x="162.20" y="332.80" fill="#454040" font-size="7.00" font-weight="bold" textLength="20.74" lengthAdjust="spacingAndGlyphs" text-anchor="middle">ALAMEDA</text>
<text x="269.40" y="335.90" fill="#454040" font-size="7.00" font-weight="bold" textLength="22.91" lengthAdjust="spacingAndGlyphs" text-anchor="middle">MARIPOSA</text>
<text x="207.50" y="339.70" fill="#ffffff" font-size="7.00" font-weight="bold" textLength="26.69" lengthAdjust="spacingAndGlyphs" text-anchor="middle">STANISLAUS</text>
<text x="172.00" y="352.10" fill="#454040" font-size="7.00" font-weight="bold" textLength="14.15" lengthAdjust="spacingAndGlyphs" text-anchor="middle">SANTA</text>
<text x="172.00" y="359.50" fill="#454040" font-size="7.00" font-weight="bold" textLength="14.47" lengthAdjust="spacingAndGlyphs" text-anchor="middle">CLARA</text>
<text x="225.30" y="359.00" fill="#ffffff" font-size="7.00" font-weight="bold" textLength="18.81" lengthAdjust="spacingAndGlyphs" text-anchor="middle">MERCED</text>
<text x="278.75" y="362.20" fill="#454040" font-size="7.00" font-weight="bold" textLength="18.57" lengthAdjust="spacingAndGlyphs" text-anchor="middle">MADERA</text>
<text x="149.25" y="363.75" fill="#454040" font-size="7.00" font-weight="bold" textLength="14.15" lengthAdjust="spacingAndGlyphs" text-anchor="middle">SANTA</text>
<text x="149.25" y="370.90" fill="#454040" font-size="7.00" font-weight="bold" textLength="12.05" lengthAdjust="spacingAndGlyphs" text-anchor="middle">CRUZ</text>
<text x="285.50" y="391.75" fill="#ffffff" font-size="7.00" font-weight="bold" textLength="18.08" lengthAdjust="spacingAndGlyphs" text-anchor="middle">FRESNO</text>
<text x="205.00" y="395.50" fill="#454040" font-size="7.00" font-weight="bold" textLength="8.92" lengthAdjust="spacingAndGlyphs" text-anchor="middle">SAN</text>
<text x="205.00" y="402.50" fill="#454040" font-size="7.00" font-weight="bold" textLength="16.08" lengthAdjust="spacingAndGlyphs" text-anchor="middle">BENITO</text>
<text x="397.70" y="398.90" fill="#454040" font-size="7.00" font-weight="bold" textLength="10.61" lengthAdjust="spacingAndGlyphs" text-anchor="middle">INYO</text>
<text x="327.00" y="425.00" fill="#ffffff" font-size="7.00" font-weight="bold" textLength="17.12" lengthAdjust="spacingAndGlyphs" text-anchor="middle">TULARE</text>
<text x="190.00" y="425.00" fill="#454040" font-size="7.00" font-weight="bold" textLength="24.59" lengthAdjust="spacingAndGlyphs" text-anchor="middle">MONTEREY</text>
<text x="273.00" y="437.00" fill="#ffffff" font-size="7.00" font-weight="bold" textLength="13.51" lengthAdjust="spacingAndGlyphs" text-anchor="middle">KINGS</text>
<text x="240.00" y="482.00" fill="#454040" font-size="7.00" font-weight="bold" textLength="37.63" lengthAdjust="spacingAndGlyphs" text-anchor="middle">SAN LUIS OBISPO</text>
<text x="330.00" y="487.50" fill="#ffffff" font-size="7.00" font-weight="bold" textLength="12.06" lengthAdjust="spacingAndGlyphs" text-anchor="middle">KERN</text>
<text x="469.20" y="512.50" fill="#ffffff" font-size="7.00" font-weight="bold" textLength="39.07" lengthAdjust="spacingAndGlyphs" text-anchor="middle">SAN BERNARDINO</text>
<text x="259.25" y="525.00" fill="#454040" font-size="7.00" font-weight="bold" textLength="35.86" lengthAdjust="spacingAndGlyphs" text-anchor="middle">SANTA BARBARA</text>
<text x="313.75" y="538.75" fill="#454040" font-size="7.00" font-weight="bold" textLength="20.74" lengthAdjust="spacingAndGlyphs" text-anchor="middle">VENTURA</text>
<text x="363.75" y="541.75" fill="#454040" font-size="7.00" font-weight="bold" textLength="30.15" lengthAdjust="spacingAndGlyphs" text-anchor="middle">LOS ANGELES</text>
<text x="475.50" y="586.25" fill="#454040" font-size="7.00" font-weight="bold" textLength="23.39" lengthAdjust="spacingAndGlyphs" text-anchor="middle">RIVERSIDE</text>
<text x="384.50" y="590.00" fill="#454040" font-size="7.00" font-weight="bold" textLength="18.81" lengthAdjust="spacingAndGlyphs" text-anchor="middle">ORANGE</text>
<text x="442.50" y="632.50" fill="#454040" font-size="7.00" font-weight="bold" textLength="24.12" lengthAdjust="spacingAndGlyphs" text-anchor="middle">SAN DIEGO</text>
<text x="514.50" y="632.50" fill="#ffffff" font-size="7.00" font-weight="bold" textLength="20.26" lengthAdjust="spacingAndGlyphs" text-anchor="middle">IMPERIAL</text>
<text transform="translate(196.5,277.5) rotate(-34)" fill="#454040" font-size="7.00" textLength="31.50" lengthAdjust="spacingAndGlyphs" font-weight="bold" text-anchor="middle">SACRAMENTO</text>
<text transform="translate(172.8,232) rotate(75)" fill="#454040" font-size="7.00" font-weight="bold" textLength="17.36" lengthAdjust="spacingAndGlyphs" text-anchor="middle">SUTTER</text>
<text x="91" y="321.7" fill="#454040" font-size="7.00" font-weight="bold" textLength="34" lengthAdjust="spacingAndGlyphs">SAN FRANCISCO</text>
<line x1="125.8" y1="319.3" x2="132.6" y2="319.3" stroke="#555" stroke-width="0.6"/><circle cx="132.8" cy="319.3" r="0.9" fill="#555"/>
<text x="97" y="339.4" fill="#454040" font-size="7.00" font-weight="bold" textLength="24" lengthAdjust="spacingAndGlyphs">SAN MATEO</text>
<line x1="121.5" y1="337" x2="136" y2="337" stroke="#555" stroke-width="0.6"/><circle cx="136" cy="337" r="0.9" fill="#555"/>
</g>
<text x="333.75" y="32.3" fill="#2b2b2b" font-size="13" font-weight="bold" textLength="190.75" lengthAdjust="spacingAndGlyphs">Number of People in Each County</text>
<text x="336.5" y="47.8" fill="#2b2b2b" font-size="13" font-weight="bold" textLength="183.5" lengthAdjust="spacingAndGlyphs">Served by Failing Water Systems</text>
<text x="350.6" y="73.3" fill="#333333" font-size="9" textLength="38.2" lengthAdjust="spacingAndGlyphs">PER COUNTY</text>
<text x="483.9" y="73.3" fill="#333333" font-size="9" textLength="17.1" lengthAdjust="spacingAndGlyphs">TOTAL</text>
<rect x="347.8" y="74.8" width="90.8" height="0.9" fill="#555"/>
<rect x="466.7" y="74.8" width="52.3" height="0.9" fill="#555"/>
<rect x="349" y="81.90" width="13" height="6.3" fill="#c5302b"/>
<text x="369.4" y="88.60" fill="#333333" font-size="10.2" textLength="62.80" lengthAdjust="spacingAndGlyphs">60,001 to 200,000</text>
<text x="488.00" y="88.60" fill="#333333" font-size="10.2" textLength="15.40" lengthAdjust="spacingAndGlyphs">66%</text>
<rect x="349" y="95.50" width="13" height="6.3" fill="#d57154"/>
<text x="369.4" y="102.20" fill="#333333" font-size="10.2" textLength="58.90" lengthAdjust="spacingAndGlyphs">20,001 to 60,000</text>
<text x="488.60" y="102.20" fill="#333333" font-size="10.2" textLength="7.80" lengthAdjust="spacingAndGlyphs">23</text>
<rect x="349" y="109.10" width="13" height="6.3" fill="#e9b9a2"/>
<text x="369.4" y="115.80" fill="#333333" font-size="10.2" textLength="58.60" lengthAdjust="spacingAndGlyphs">10,001 to 20,000</text>
<text x="491.40" y="115.80" fill="#333333" font-size="10.2" textLength="4.20" lengthAdjust="spacingAndGlyphs">6</text>
<rect x="349" y="122.70" width="13" height="6.3" fill="#f0bd50"/>
<text x="369.4" y="129.40" fill="#333333" font-size="10.2" textLength="54.40" lengthAdjust="spacingAndGlyphs">1,001 to 10,000</text>
<text x="491.40" y="129.40" fill="#333333" font-size="10.2" textLength="4.20" lengthAdjust="spacingAndGlyphs">4</text>
<rect x="349" y="136.30" width="13" height="6.3" fill="#fbe3b9"/>
<text x="369.4" y="143.00" fill="#333333" font-size="10.2" textLength="34.40" lengthAdjust="spacingAndGlyphs">1 to 1,000</text>
<text x="491.80" y="143.00" fill="#333333" font-size="10.2" textLength="3.40" lengthAdjust="spacingAndGlyphs">1</text>
<rect x="349" y="149.90" width="13" height="6.3" fill="#e0ddd7"/>
<text x="369.4" y="156.60" fill="#333333" font-size="10.2" textLength="4.20" lengthAdjust="spacingAndGlyphs">0</text>
<text x="342.40" y="201.90" fill="#3d3d3d" font-size="10.3" textLength="194.30" lengthAdjust="spacingAndGlyphs">Percentages show the share of the statewide total population</text>
<text x="338.90" y="215.30" fill="#3d3d3d" font-size="10.3" textLength="202.40" lengthAdjust="spacingAndGlyphs">served by failing water systems for each category. For example,</text>
<text x="340.60" y="228.70" fill="#3d3d3d" font-size="10.3" textLength="198.80" lengthAdjust="spacingAndGlyphs">66 percent of the people served by failing water systems live in</text>
<text x="378.90" y="242.10" fill="#3d3d3d" font-size="10.3" textLength="120.30" lengthAdjust="spacingAndGlyphs">the five counties indicated in dark red.</text>
<path d="M334.2,190.6 H329.3 V246.2 H334.2 M546.2,190.6 H551.4 V246.2 H546.2" fill="none" stroke="#b9b9b9" stroke-width="0.9"/>
</svg></body></html>
